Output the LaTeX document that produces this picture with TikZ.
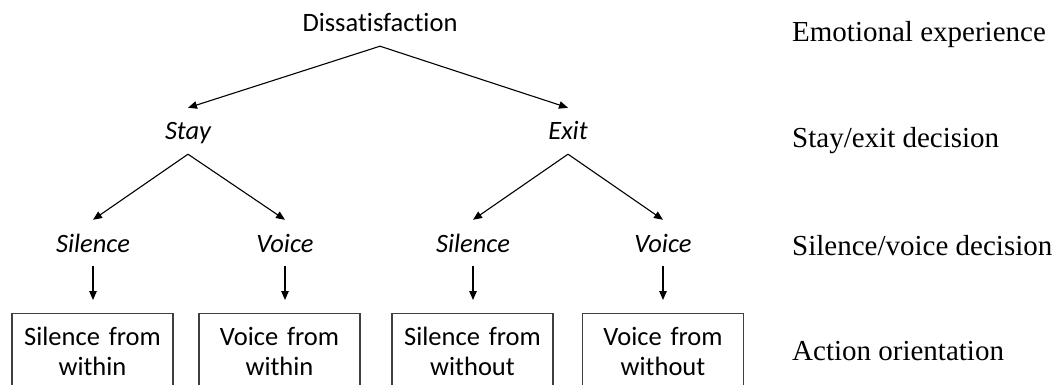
\documentclass[tikz,border=0pt]{standalone}
\usepackage{fontspec}
\usetikzlibrary{arrows.meta}
\newfontfamily\calibsans[Ligatures={NoCommon,NoContextual}]{Carlito}
\newfontfamily\timesserif{Liberation Serif}
\begin{document}
\begin{tikzpicture}[x=1pt,y=-1pt,
  lbl/.style={font=\calibsans\fontsize{26.5}{30}\selectfont, anchor=base,
    text height=24pt, text depth=6pt, inner xsep=2pt, inner ysep=8pt},
  choice/.style={lbl, font=\calibsans\itshape\fontsize{26.5}{30}\selectfont},
  outcome/.style={draw=black!75, line width=1.1pt, anchor=north,
    text width=161pt, align=center, inner sep=0pt,
    text height=32pt, text depth=60pt,
    font=\calibsans\fontsize{26.5}{30}\selectfont},
  level/.style={font=\timesserif\fontsize{29}{34}\selectfont,
    anchor=base west, inner sep=0pt},
  arr/.style={-{Triangle[length=9pt,width=7.5pt]}, line width=1.1pt},
  drop/.style={arr, shorten >=13pt}
]
\useasboundingbox (0,0) rectangle (1055,385);
\clip (0,0) rectangle (1055,385);

% tree labels
\node[lbl] (dis) at (380,32) {Dissatisfaction};
\node[choice] (stay) at (188,140) {Stay};
\node[choice] (exit) at (568,140) {Exit};
\node[choice] (s1) at (93,252) {Silence};
\node[choice] (v1) at (285,252) {Voice};
\node[choice] (s2) at (473,252) {Silence};
\node[choice] (v2) at (663,252) {Voice};

% outcome boxes (open at the bottom edge)
\node[outcome] (b1) at (92.5,313) {Silence from\\within};
\node[outcome] (b2) at (279.5,313) {Voice from\\within};
\node[outcome] (b3) at (472.5,313) {Silence from\\without};
\node[outcome] (b4) at (663,313) {Voice from\\without};

% branches
\draw[arr] (dis.south) -- (stay.north);
\draw[arr] (dis.south) -- (exit.north);
\draw[arr] (stay.south) -- (s1.north);
\draw[arr] (stay.south) -- (v1.north);
\draw[arr] (exit.south) -- (s2.north);
\draw[arr] (exit.south) -- (v2.north);
\draw[drop] (s1.south) -- (s1.south |- b1.north);
\draw[drop] (v1.south) -- (v1.south |- b2.north);
\draw[drop] (s2.south) -- (s2.south |- b3.north);
\draw[drop] (v2.south) -- (v2.south |- b4.north);

% level captions
\node[level] (l1) at (792,42) {Emotional experience};
\node[level] (l2) at (792,148) {Stay/exit decision};
\node[level] (l3) at (792,255) {Silence/voice decision};
\node[level] (l4) at (792,360) {Action orientation};
\end{tikzpicture}
\end{document}
